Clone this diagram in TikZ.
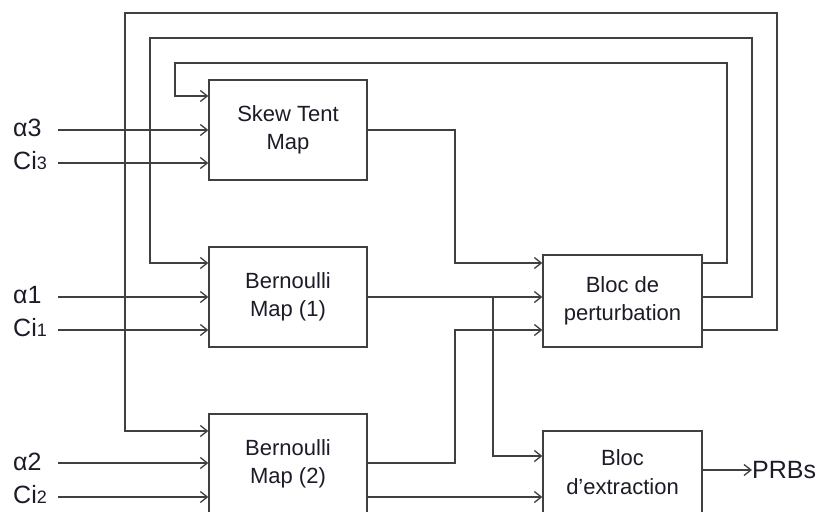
\documentclass[tikz,border=0pt]{standalone}
\usepackage{fontspec}
\setmainfont{Liberation Sans}
\usetikzlibrary{arrows.meta,calc}
\definecolor{ln}{HTML}{404040}
\definecolor{tx}{HTML}{1C1C28}
\begin{document}
\begin{tikzpicture}[x=1pt,y=-1pt,
 blk/.style={draw=ln,line width=1.3pt,fill=white,minimum width=158pt,align=center,text=tx,font=\fontsize{22}{28.5}\selectfont,inner sep=0pt},
 lab/.style={anchor=west,inner sep=0pt,text=tx,font=\fontsize{25}{25}\selectfont},
 conn/.style={draw=ln,line width=1.3pt},
 arr/.style={conn,-{Straight Barb[length=7pt,width=11pt,line width=1.3pt]}}]
\useasboundingbox (0,0) rectangle (821,511);
\clip (0,0) rectangle (821,511);
\fill[white] (0,0) rectangle (821,511);
% blocks
\node[blk,minimum height=100pt] (sk) at (288,130) {Skew Tent\\Map};
\node[blk,minimum height=100pt] (b1) at (288,297) {Bernoulli\\Map (1)};
\node[blk,minimum height=100pt] (b2) at (288,464) {Bernoulli\\Map (2)};
\node[blk,minimum width=159pt,minimum height=92pt] (pb) at (622.5,301) {Bloc de\\perturbation};
\node[blk,minimum width=159pt,minimum height=82pt] (ex) at (622.5,472) {Bloc\\d’extraction};
% input labels
\node[lab] (a3) at (13,128) {α3};
\node[lab] (c3) at (13,161) {Ci{\fontsize{18}{18}\selectfont 3}};
\node[lab] (a1) at (13,295) {α1};
\node[lab] (c1) at (13,328) {Ci{\fontsize{18}{18}\selectfont 1}};
\node[lab] (a2) at (13,462) {α2};
\node[lab] (c2) at (13,495) {Ci{\fontsize{18}{18}\selectfont 2}};
\coordinate (a3e) at (58,130);
\coordinate (c3e) at (58,163);
\coordinate (a1e) at (58,297);
\coordinate (c1e) at (58,330);
\coordinate (a2e) at (58,463);
\coordinate (c2e) at (58,497);
% feedback loops
\draw[arr] (pb.east |- 0,263) -- (727,263) -- (727,63) -- (175,63) -- (175,96) -- (sk.west |- 0,96);
\draw[arr] (pb.east |- 0,297) -- (752,297) -- (752,38) -- (150,38) -- (150,263) -- (b1.west |- 0,263);
\draw[arr] (pb.east |- 0,330) -- (777,330) -- (777,13) -- (125,13) -- (125,431) -- (b2.west |- 0,431);
% inputs
\draw[arr] (a3e) -- (sk.west |- a3e);
\draw[arr] (c3e) -- (sk.west |- c3e);
\draw[arr] (a1e) -- (b1.west |- a1e);
\draw[arr] (c1e) -- (b1.west |- c1e);
\draw[arr] (a2e) -- (b2.west |- a2e);
\draw[arr] (c2e) -- (b2.west |- c2e);
% map outputs
\draw[arr] (sk.east) -- (455,130) -- (455,263) -- (pb.west |- 0,263);
\draw[arr] (b1.east) -- (pb.west |- b1.east);
\draw[arr] (493,297) -- (493,456) -- (ex.west |- 0,456);
\draw[arr] (b2.east |- 0,463) -- (455,463) -- (455,330) -- (pb.west |- 0,330);
\draw[arr] (b2.east |- 0,497) -- (ex.west |- 0,497);
% output
\node[lab,font=\fontsize{25}{25}\selectfont] (prb) at (752,470) {PRBs};
\draw[arr] (ex.east |- prb.west) -- (prb.west);
\end{tikzpicture}
\end{document}
